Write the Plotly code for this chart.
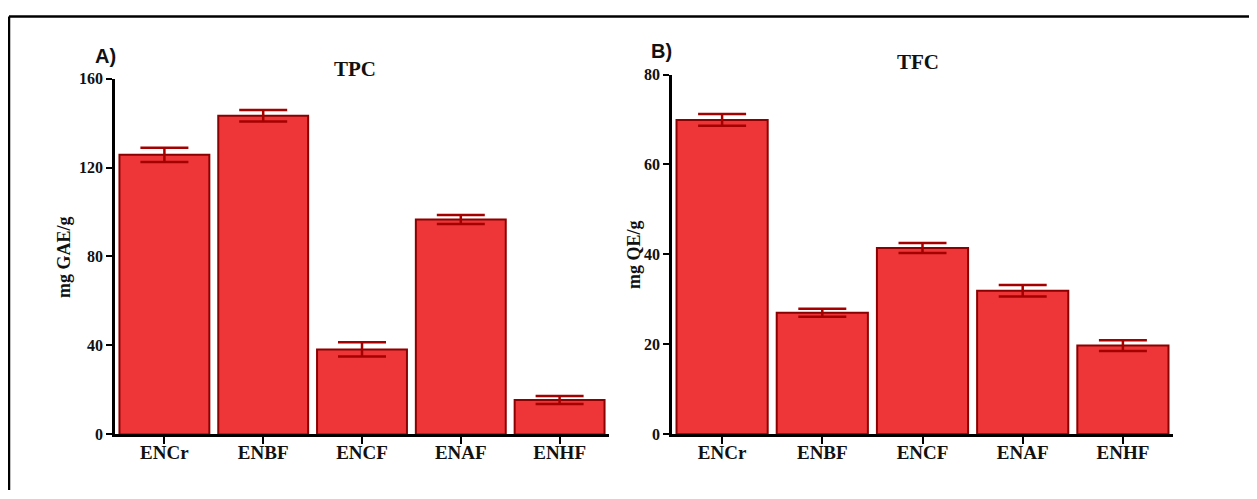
import plotly.graph_objects as go

categories = ["ENCr", "ENBF", "ENCF", "ENAF", "ENHF"]
tpc_values = [125.7, 143.3, 38.2, 96.6, 15.5]
tpc_errors = [3.2, 2.6, 3.2, 2.0, 1.8]
tfc_values = [69.9, 27.0, 41.4, 31.9, 19.7]
tfc_errors = [1.3, 0.9, 1.1, 1.3, 1.2]
tpc_ticks = [0, 40, 80, 120, 160]
tfc_ticks = [0, 20, 40, 60, 80]

OFF = 8
W, H = 1257 - OFF, 499 - OFF
# observed vertical mapping of the photographed page
YA, YB = 16.6, 0.963
BAR = "#EE3639"
EDGE = "#8B0000"
ERR = "#A50000"
SERIF = "Liberation Serif"


def px(x):
    return (x - OFF) / W


def py(y):
    d = max((y - YA) / YB, 0.6)
    return 1 - d / H


fig = go.Figure()
fig.add_trace(go.Bar(
    x=categories, y=tpc_values, xaxis="x", yaxis="y",
    marker=dict(color=BAR, line=dict(color=EDGE, width=2)),
    error_y=dict(type="data", array=tpc_errors, color=ERR, thickness=2.5, width=24),
    showlegend=False,
))
fig.add_trace(go.Bar(
    x=categories, y=tfc_values, xaxis="x2", yaxis="y2",
    marker=dict(color=BAR, line=dict(color=EDGE, width=2)),
    error_y=dict(type="data", array=tfc_errors, color=ERR, thickness=2.5, width=24),
    showlegend=False,
))

xcommon = dict(showline=True, linecolor="black", linewidth=2.5, ticks="outside",
               ticklen=7, tickwidth=2, tickcolor="black", showgrid=False,
               zeroline=False, range=[-0.5, 4.5], ticklabelstandoff=-8,
               tickfont=dict(family=SERIF, size=19, color="#111", weight="bold"))
ycommon = dict(showline=True, linecolor="black", linewidth=2.5, ticks="outside",
               ticklen=6, tickwidth=2, tickcolor="black", showgrid=False,
               zeroline=False,
               tickfont=dict(family=SERIF, size=16, color="#111", weight="bold"))


def note(text, x, y, family, size, angle=0):
    return dict(text=text, x=px(x), y=py(y), xref="paper", yref="paper",
                showarrow=False, xanchor="center", yanchor="middle", textangle=angle,
                font=dict(family=family, size=size, color="#111", weight="bold"))


fig.update_layout(
    width=W, height=H,
    margin=dict(l=0, r=0, t=0, b=0),
    paper_bgcolor="white", plot_bgcolor="rgba(0,0,0,0)",
    bargap=0.09,
    xaxis=dict(domain=[px(115), px(609)], anchor="y", **xcommon),
    yaxis=dict(domain=[py(434), py(79)], anchor="x", range=[0, 160],
               tickvals=tpc_ticks, **ycommon),
    xaxis2=dict(domain=[px(672), px(1173)], anchor="y2", **xcommon),
    yaxis2=dict(domain=[py(433.7), py(75)], anchor="x2", range=[0, 80],
                tickvals=tfc_ticks, **ycommon),
    shapes=[
        dict(type="line", xref="paper", yref="paper", x0=px(9), x1=1, y0=py(7), y1=py(7),
             line=dict(color="black", width=2.5)),
        dict(type="line", xref="paper", yref="paper", x0=px(9), x1=px(9), y0=py(7), y1=0,
             line=dict(color="black", width=2.5)),
    ],
    annotations=[
        note("A)", 105, 57, "Liberation Sans", 20),
        note("TPC", 355, 69, SERIF, 21),
        note("B)", 661, 52, "Liberation Sans", 20),
        note("TFC", 918, 62, SERIF, 21),
        note("mg GAE/g", 64, 257, SERIF, 18, -90),
        note("mg QE/g", 634, 255, SERIF, 18, -90),
    ],
)

fig.write_html("out.html")
